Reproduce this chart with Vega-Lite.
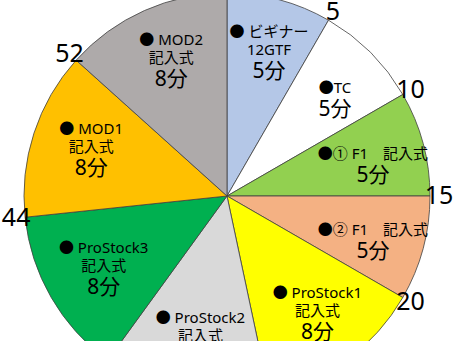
{
  "$schema": "https://vega.github.io/schema/vega-lite/v6.json",
  "width": 454,
  "height": 392,
  "autosize": "none",
  "padding": 0,
  "background": "white",
  "config": {"view": {"stroke": null}, "text": {"font": "Noto Sans, Noto Sans CJK JP"}},
  "layer": [
    {
      "data": {
        "values": [
          {"idx": 1, "segment": "ビギナー", "upper": "● ビギナー", "lower": "12GTF", "minutes": 5, "mlabel": "5分"},
          {"idx": 2, "segment": "TC", "upper": "", "lower": "●TC", "minutes": 5, "mlabel": "5分"},
          {"idx": 3, "segment": "F1-1", "upper": "", "lower": "●①  F1　記入式", "minutes": 5, "mlabel": "5分"},
          {"idx": 4, "segment": "F1-2", "upper": "", "lower": "●②  F1　記入式", "minutes": 5, "mlabel": "5分"},
          {"idx": 5, "segment": "ProStock1", "upper": "● ProStock1", "lower": "記入式", "minutes": 8, "mlabel": "8分"},
          {"idx": 6, "segment": "ProStock2", "upper": "● ProStock2", "lower": "記入式", "minutes": 8, "mlabel": "8分"},
          {"idx": 7, "segment": "ProStock3", "upper": "● ProStock3", "lower": "記入式", "minutes": 8, "mlabel": "8分"},
          {"idx": 8, "segment": "MOD1", "upper": "● MOD1", "lower": "記入式", "minutes": 8, "mlabel": "8分"},
          {"idx": 9, "segment": "MOD2", "upper": "● MOD2", "lower": "記入式", "minutes": 8, "mlabel": "8分"}
        ]
      },
      "encoding": {
        "theta": {"field": "minutes", "type": "quantitative", "stack": true, "scale": {"domain": [0, 60]}},
        "order": {"field": "idx", "type": "quantitative"}
      },
      "layer": [
        {
          "mark": {"type": "arc", "outerRadius": 203, "stroke": "#404040", "strokeWidth": 0.8},
          "encoding": {
            "color": {
              "field": "segment",
              "type": "nominal",
              "legend": null,
              "scale": {
                "domain": ["ビギナー", "TC", "F1-1", "F1-2", "ProStock1", "ProStock2", "ProStock3", "MOD1", "MOD2"],
                "range": ["#B4C7E7", "#FFFFFF", "#92D050", "#F4B183", "#FFFF00", "#D9D9D9", "#00B050", "#FFC000", "#AEAAAA"]
              }
            }
          }
        },
        {
          "mark": {"type": "text", "radius": 147, "fontSize": 15, "baseline": "middle", "align": "center", "dx": 4, "dy": -22, "color": "#000000"},
          "encoding": {"text": {"field": "upper"}}
        },
        {
          "mark": {"type": "text", "radius": 147, "fontSize": 15, "baseline": "middle", "align": "center", "dx": 4, "dy": -4, "color": "#000000"},
          "encoding": {"text": {"field": "lower"}}
        },
        {
          "mark": {"type": "text", "radius": 147, "fontSize": 21, "baseline": "middle", "align": "center", "dx": 4, "dy": 18, "color": "#000000"},
          "encoding": {"text": {"field": "mlabel"}}
        }
      ]
    },
    {
      "data": {
        "values": [
          {"minute": 5}, {"minute": 10}, {"minute": 15}, {"minute": 20},
          {"minute": 28}, {"minute": 36}, {"minute": 44}, {"minute": 52}
        ]
      },
      "mark": {"type": "text", "radius": 212, "fontSize": 25, "align": "center", "baseline": "middle", "color": "#000000"},
      "encoding": {
        "theta": {"field": "minute", "type": "quantitative", "stack": null, "scale": {"domain": [0, 60]}},
        "text": {"field": "minute", "type": "quantitative"}
      }
    }
  ]
}
